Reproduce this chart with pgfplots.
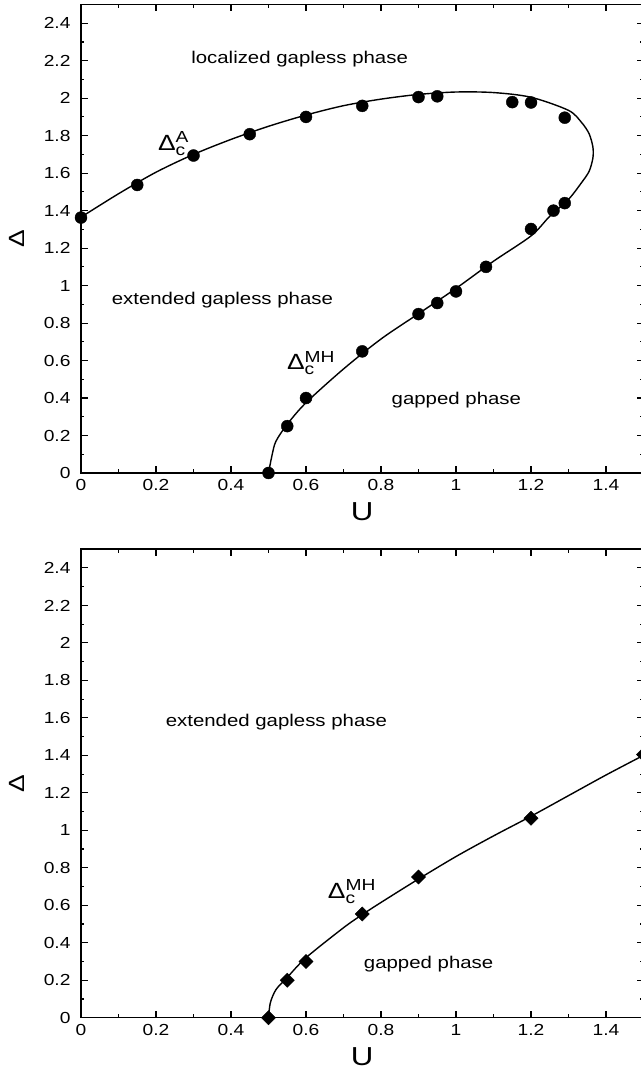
\documentclass[border=0pt]{standalone}
\usepackage{fontspec}
\setmainfont[FakeStretch=1.2]{Liberation Sans}
\usepackage{pgfplots}
\pgfplotsset{compat=1.18}

% Delta_c with stacked sub/superscript
\newcommand{\Dc}[1]{Δ$_{\mbox{\fontsize{16bp}{16bp}\selectfont c}}^{\mbox{\fontsize{16bp}{16bp}\selectfont #1}}$}

\pgfplotsset{
  phase/.style={
    scale only axis, width=562.5bp, height=468.5bp,
    xmin=0, xmax=1.5, ymin=0, ymax=2.5,
    xtick={0,0.2,0.4,0.6,0.8,1,1.2,1.4},
    ytick={0,0.2,0.4,0.6,0.8,1,1.2,1.4,1.6,1.8,2,2.2,2.4},
    minor x tick num=1, minor y tick num=1,
    tick align=inside,
    major tick length=7bp, minor tick length=3.5bp,
    every tick/.append style={black, line width=1.1bp},
    axis line style={line width=1.5bp},
    /pgf/number format/assume math mode=true,
    ticklabel style={font=\fontsize{16bp}{16bp}\selectfont},
    yticklabel style={xshift=-7bp},
    xticklabel style={yshift=-3bp},
    xlabel={U}, ylabel={Δ},
    xlabel style={at={(axis description cs:0.5,-0.083)}, anchor=center,
      font=\fontsize{26bp}{26bp}\selectfont},
    ylabel style={at={(axis description cs:-0.1147,0.5)}, anchor=center,
      font=\fontsize{22bp}{22bp}\selectfont},
  },
  curve/.style={black, line width=1.4bp, smooth, no marks},
}
\tikzset{
  note/.style={font=\fontsize{17bp}{17bp}\selectfont},
  dlab/.style={font=\fontsize{22bp}{22bp}\selectfont, anchor=base west, inner sep=0pt},
}

\begin{document}
\begin{tikzpicture}
\useasboundingbox (-81bp,-58.3bp) rectangle (560bp,1017.7bp);

% upper panel
\begin{axis}[phase, at={(0bp,544.7bp)}, anchor=south west]
\addplot[curve] coordinates {
 (0,1.365) (0.1,1.49) (0.2,1.605) (0.3,1.70) (0.4,1.78) (0.5,1.85)
 (0.6,1.91) (0.7,1.96) (0.8,1.995) (0.9,2.02) (1.0,2.033) (1.1,2.03)
 (1.2,2.005) (1.3,1.935) (1.335,1.87) (1.355,1.81) (1.365,1.74)
 (1.365,1.68) (1.355,1.61) (1.335,1.55) (1.30,1.46) (1.25,1.37)
 (1.2,1.265) (1.1,1.13) (1.0,0.985) (0.9,0.85) (0.8,0.715) (0.7,0.555)
 (0.6,0.375) (0.55,0.26) (0.52,0.17) (0.51,0.10) (0.5,0)
};
\addplot[only marks, mark=*, mark size=6bp, black] coordinates {
 (0,1.363) (0.15,1.537) (0.30,1.694) (0.45,1.808) (0.60,1.900)
 (0.75,1.959) (0.90,2.006) (0.95,2.010) (1.15,1.979) (1.20,1.977)
 (1.29,1.896) (1.29,1.44) (1.26,1.40) (1.20,1.302) (1.08,1.10)
 (1.00,0.969) (0.95,0.907) (0.90,0.848) (0.75,0.649) (0.60,0.40)
 (0.55,0.25) (0.50,0)
};
\node[note] at (axis cs:0.583,2.209) {localized gapless phase};
\node[note] at (axis cs:0.377,0.925) {extended gapless phase};
\node[note] at (axis cs:1.001,0.388) {gapped phase};
\node[dlab] at (axis cs:0.205,1.722) {\Dc{A}};
\node[dlab] at (axis cs:0.549,0.552) {\Dc{MH}};
\end{axis}

% lower panel
\begin{axis}[phase, at={(0bp,0bp)}, anchor=south west]
\addplot[curve] coordinates {
 (0.5,0) (0.505,0.08) (0.52,0.15) (0.55,0.215) (0.6,0.32) (0.7,0.48)
 (0.75,0.55) (0.8,0.615) (0.9,0.74) (1.0,0.86) (1.1,0.97) (1.2,1.075)
 (1.3,1.185) (1.4,1.295) (1.5,1.40)
};
\addplot[only marks, mark=square*, mark size=5bp, mark options={rotate=45}, black] coordinates {
 (0.5,0) (0.55,0.20) (0.60,0.30) (0.75,0.553) (0.90,0.751) (1.20,1.064) (1.50,1.404)
};
\node[note] at (axis cs:0.521,1.58) {extended gapless phase};
\node[note] at (axis cs:0.927,0.288) {gapped phase};
\node[dlab] at (axis cs:0.658,0.638) {\Dc{MH}};
\end{axis}
\end{tikzpicture}
\end{document}
